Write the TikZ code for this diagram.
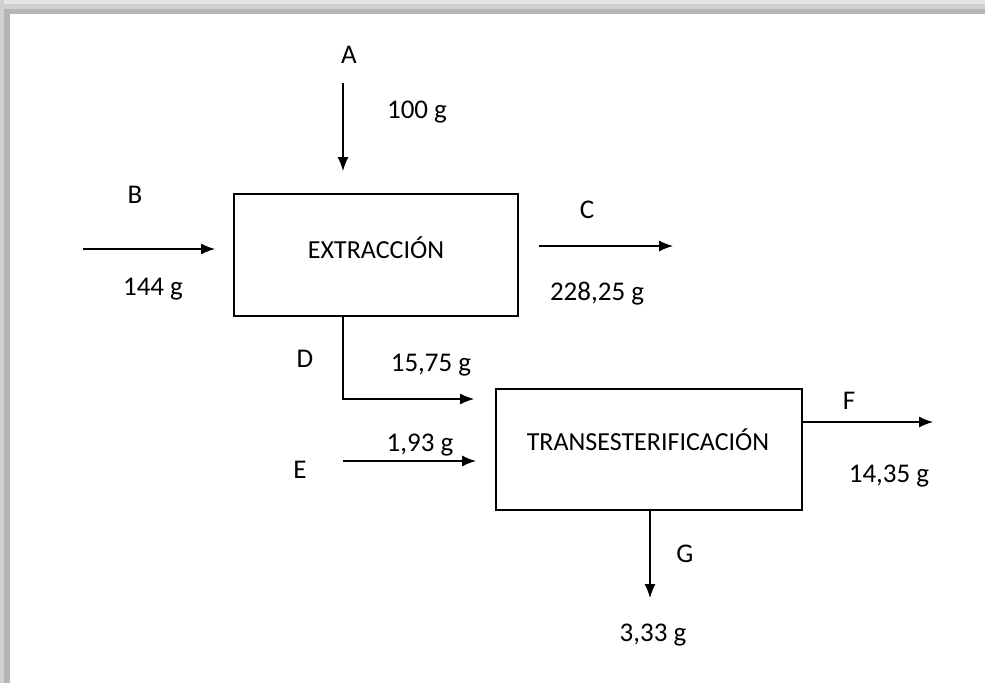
\documentclass[tikz,border=0pt]{standalone}
\usepackage{fontspec}
\setmainfont{Carlito}
\usetikzlibrary{positioning,arrows.meta,calc}

\tikzset{
  proceso/.style={draw, line width=1.2pt, minimum width=284pt, minimum height=122pt, inner sep=0pt,
    font=\fontsize{26}{30}\selectfont},
  flujo/.style={-{Latex[length=14pt,width=11pt]}, line width=1.2pt},
  etiqueta/.style={anchor=base, inner sep=0pt}
}

\begin{document}
\begin{tikzpicture}[x=1pt, y=-1pt, font=\fontsize{27}{31}\selectfont]
        % marco
        \useasboundingbox (0,0) rectangle (985,683);
        \fill[white] (0,0) rectangle (985,683);
        \fill[black!10] (0,0) rectangle (985,4);
        \fill[black!18] (0,4) rectangle (985,9);
        \fill[black!29] (0,9) rectangle (985,14);
        \fill[black!18] (0,0) rectangle (4,683);
        \fill[black!29] (4,9) rectangle (10,683);

        % equipos
        \node[proceso] (ext) at (376,255) {};
        \node[proceso, minimum width=306pt, minimum height=121pt] (trans) at (649,449.5) {};
        \node[etiqueta, font=\fontsize{26}{30}\selectfont] (text) at (376,258) {EXTRACCIÓN};
        \node[etiqueta, font=\fontsize{26}{30}\selectfont] (ttrans) at (648,450) {TRANSESTERIFICACIÓN};

        % extremos libres
        \coordinate (a0) at (343,83);
        \coordinate (a1) at (343,171);
        \coordinate (b0) at (83,249);
        \coordinate (b1) at (215,249);
        \coordinate (c0) at (539,246);
        \coordinate (c1) at (673,246);
        \coordinate (d1) at (474,399);
        \coordinate (e0) at (343,461);
        \coordinate (e1) at (476,461);
        \coordinate (f1) at (933,422);
        \coordinate (g1) at (650,598);

        % corrientes
        \draw[flujo] (a0) -- (a1);
        \draw[flujo] (b0) -- (b1);
        \draw[flujo] (c0) -- (c1);
        \draw[flujo] (ext.south -| a0) |- (d1);
        \draw[flujo] (e0) -- (e1);
        \draw[flujo] (trans.east |- f1) -- (f1);
        \draw[flujo] (trans.south -| g1) -- (g1);

        % nombres y masas
        \node[etiqueta] (la) at (349,63) {A};
        \node[etiqueta] (ma) at (417,118) {100 g};
        \node[etiqueta] (lb) at (135,203) {B};
        \node[etiqueta] (mb) at (153,295) {144 g};
        \node[etiqueta] (lc) at (587,218) {C};
        \node[etiqueta] (mc) at (597,300) {228,25 g};
        \node[etiqueta] (ld) at (305,367) {D};
        \node[etiqueta] (md) at (431,371) {15,75 g};
        \node[etiqueta] (le) at (300,478) {E};
        \node[etiqueta] (me) at (420,451) {1,93 g};
        \node[etiqueta] (lf) at (849,409) {F};
        \node[etiqueta] (mf) at (889,482) {14,35 g};
        \node[etiqueta] (lg) at (685,562) {G};
        \node[etiqueta] (mg) at (653,641) {3,33 g};
\end{tikzpicture}
\end{document}
